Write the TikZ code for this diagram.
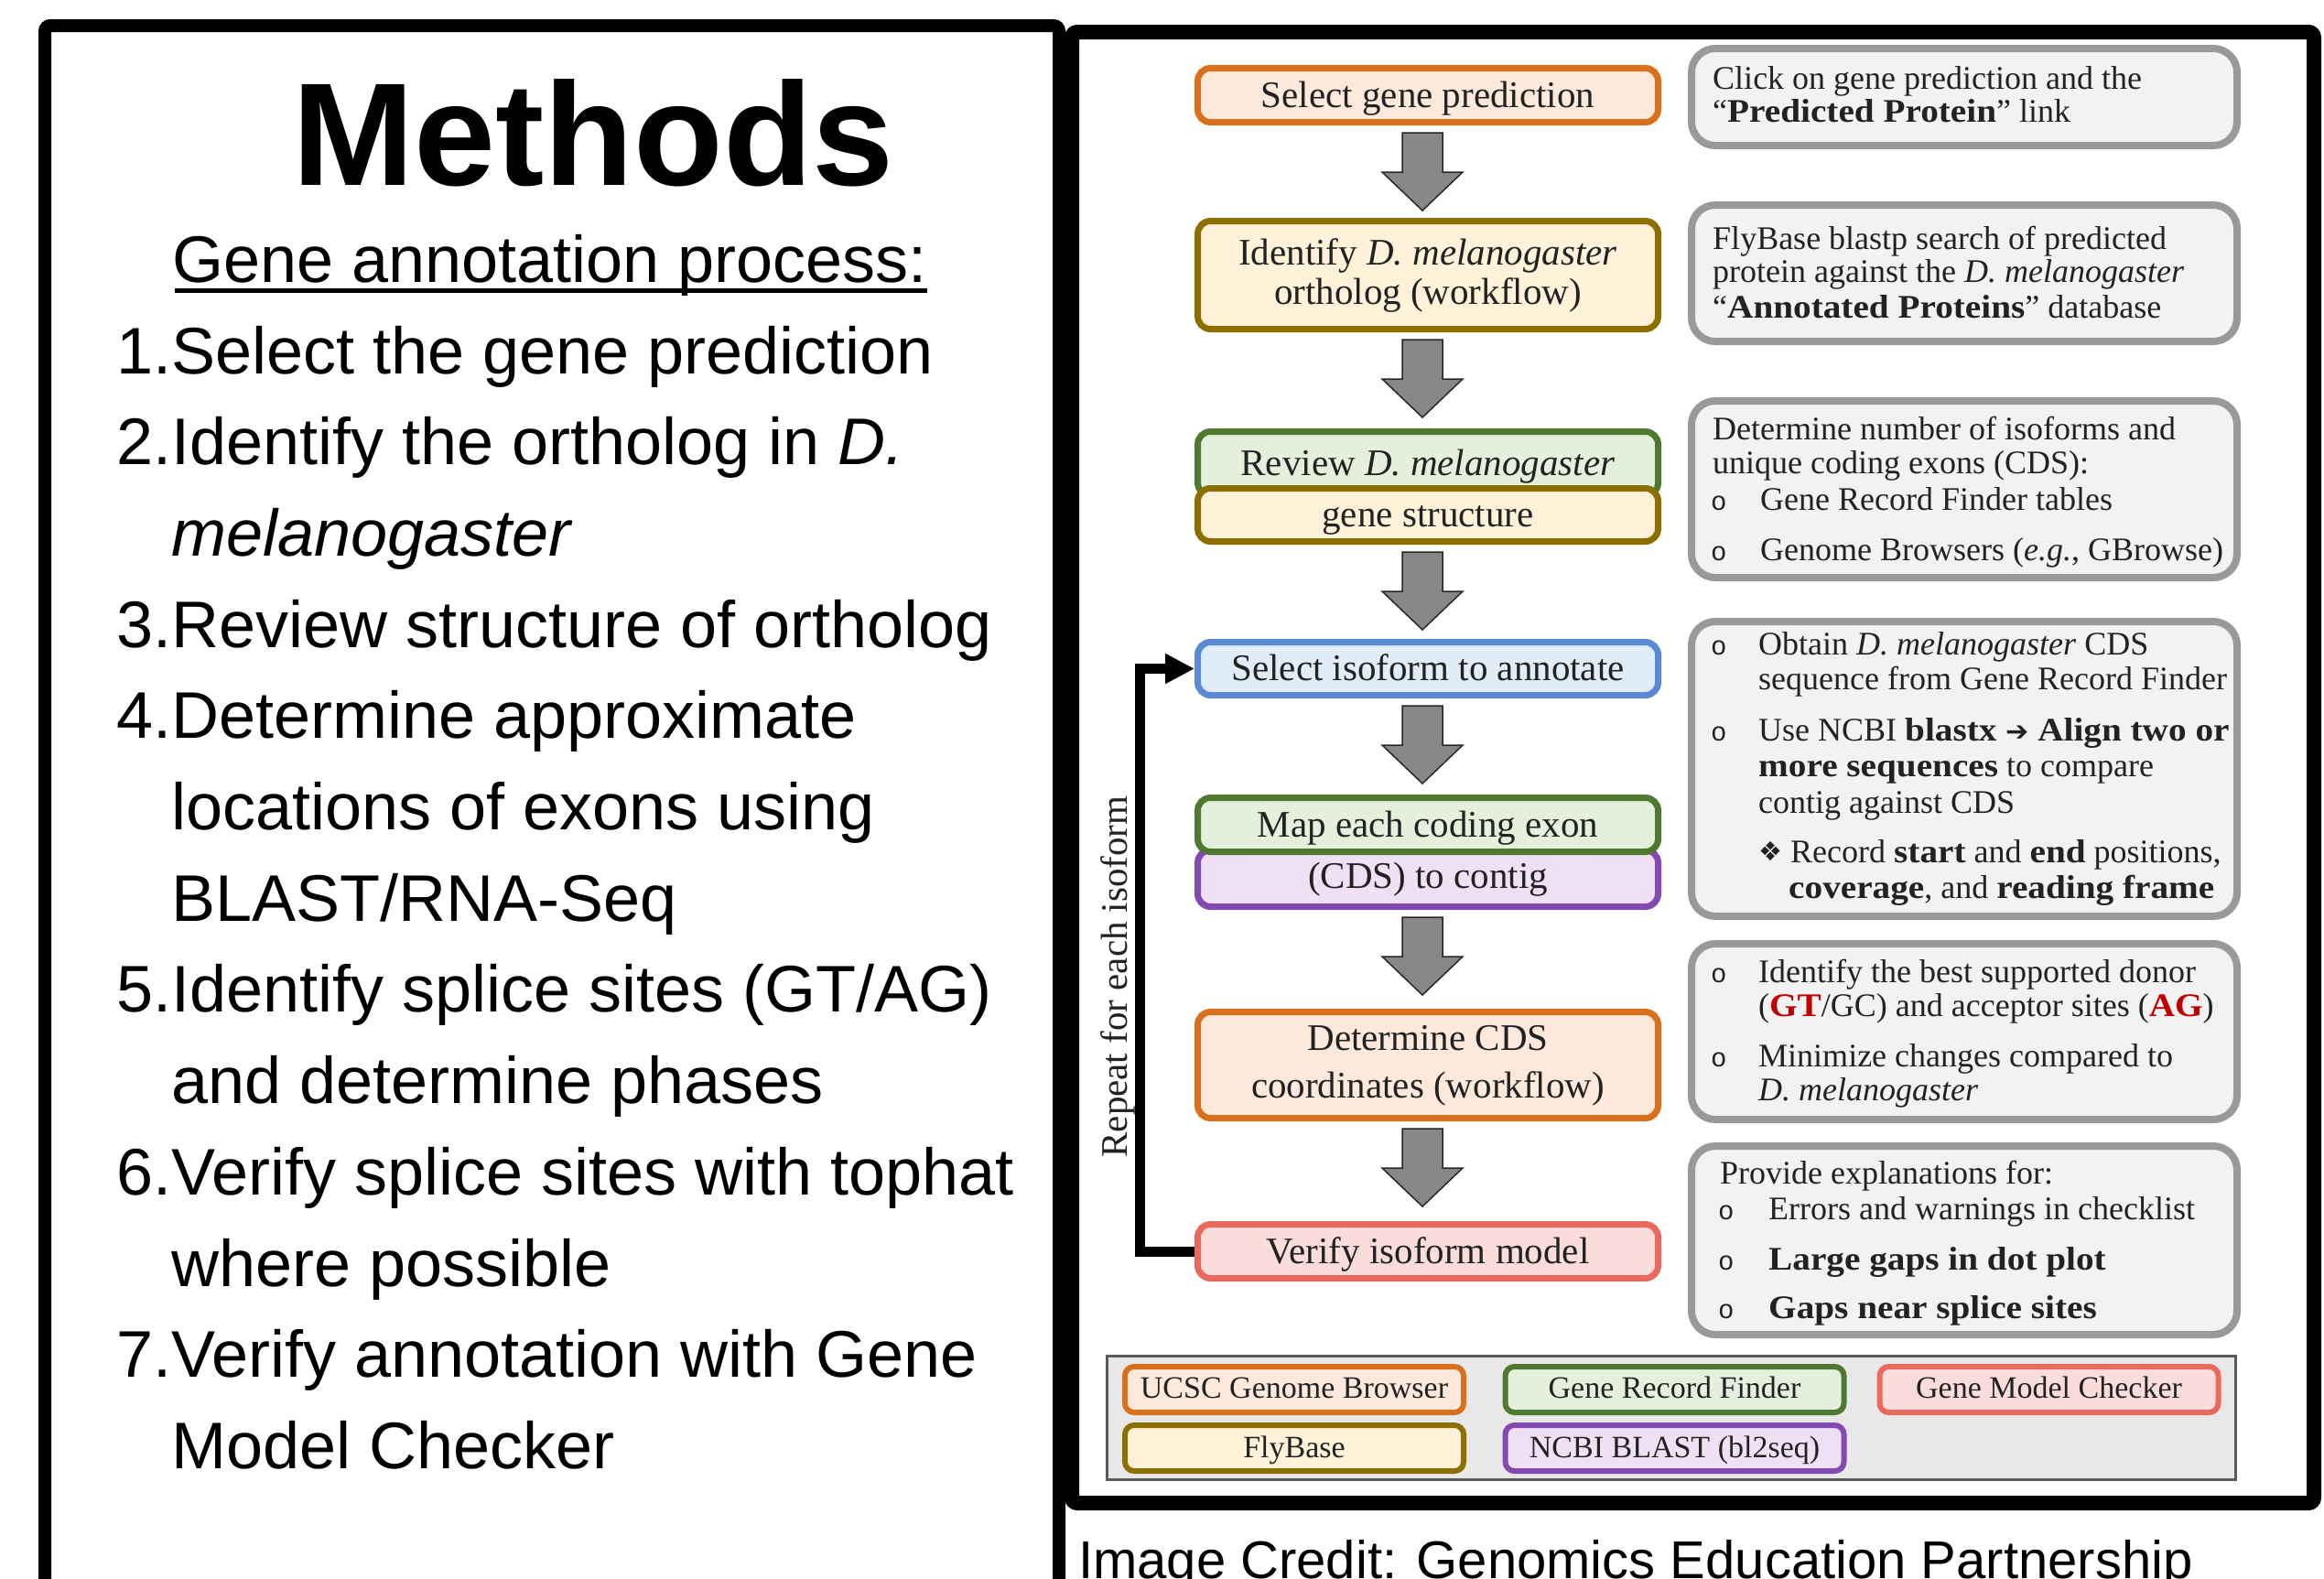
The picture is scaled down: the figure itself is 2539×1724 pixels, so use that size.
\documentclass[tikz,border=0pt]{standalone}
\usepackage{fontspec}
\setmainfont{Liberation Serif}[BoldFeatures={FakeStretch=1.09}]
\newfontfamily\arial{Liberation Sans}
\newfontfamily\symf{DejaVu Sans}
\newfontfamily\monof{Liberation Mono}
\usetikzlibrary{calc,arrows.meta}
\definecolor{orB}{HTML}{D8701E}
\definecolor{orF}{HTML}{FCE9DC}
\definecolor{olB}{HTML}{8D6E00}
\definecolor{olF}{HTML}{FFF2D8}
\definecolor{grB}{HTML}{4F7830}
\definecolor{grF}{HTML}{E4F0DB}
\definecolor{blB}{HTML}{5A8AD6}
\definecolor{blF}{HTML}{E0ECF8}
\definecolor{puB}{HTML}{8549B2}
\definecolor{puF}{HTML}{F0E0F5}
\definecolor{reB}{HTML}{E86A5E}
\definecolor{reF}{HTML}{FADCDA}
\definecolor{gyB}{HTML}{999999}
\definecolor{gyF}{HTML}{F2F2F2}
\definecolor{lgB}{HTML}{5A5A5A}
\definecolor{lgF}{HTML}{E8E8E8}
\definecolor{arF}{HTML}{878787}
\definecolor{txt}{HTML}{222222}
\definecolor{dred}{HTML}{C00000}
\newcommand\grayarrow[1]{%
  \draw[garr] let \p1=(#1.south) in
    (\x1-28,\y1-8) -- (\x1+16,\y1-8) -- (\x1+16,\y1-51) -- (\x1+38,\y1-51)
    -- (\x1-6,\y1-93) -- (\x1-50,\y1-51) -- (\x1-28,\y1-51) -- cycle;}
\newcommand\lowered[2][-4pt]{\raisebox{#1}[\height][\depth]{\begin{tabular}{@{}c@{}}#2\end{tabular}}}
\begin{document}
\begin{tikzpicture}[x=1pt,y=-1pt,
  stepbox/.style={rectangle, rounded corners=14pt, line width=7pt, minimum width=503pt,
    inner sep=0pt, align=center, text=txt, font=\fontsize{41}{46}\selectfont},
  obox/.style={stepbox, draw=orB, fill=orF},
  ybox/.style={stepbox, draw=olB, fill=olF},
  gbox/.style={stepbox, draw=grB, fill=grF},
  bbox/.style={stepbox, draw=blB, fill=blF},
  pbox/.style={stepbox, draw=puB, fill=puF},
  rbox/.style={stepbox, draw=reB, fill=reF},
  infobox/.style={rectangle, rounded corners=26pt, line width=8pt, draw=gyB, fill=gyF,
    minimum width=596pt, inner sep=0pt},
  itxt/.style={anchor=base west, inner sep=0pt, text=txt, font=\fontsize{36}{40}\selectfont},
  bul/.style={anchor=base west, inner sep=0pt, text=txt, font=\monof\fontsize{29}{30}\selectfont},
  legitem/.style={rectangle, rounded corners=10pt, line width=6pt, minimum width=370pt,
    minimum height=50pt, inner sep=0pt, text=txt, font=\fontsize{34}{38}\selectfont},
  ltxt/.style={anchor=base west, inner sep=0pt, font=\arial\fontsize{72}{72}\selectfont},
  garr/.style={fill=arF, draw=black!85, line width=1.5pt, line join=miter}]
\useasboundingbox (0,0) rectangle (2539,1724);
\fill[white] (0,0) rectangle (2539,1724);
% ---------- left panel ----------
\draw[line width=14pt, rounded corners=6pt] (49,1800) -- (49,28) -- (1157,28) -- (1157,1800);
\node[anchor=base, inner sep=0pt, font=\arial\bfseries\fontsize{160}{160}\selectfont] (title) at (648,202) {Methods};
\node[ltxt] (sub) at (188,308) {Gene annotation process:};
\draw[line width=5pt] ($(sub.base west)+(3,9)$) -- ($(sub.base east)+(0,9)$);
\node[ltxt] (n1) at (127,408) {1.};
\node[ltxt] (l1) at (187,408) {Select the gene prediction};
\node[ltxt] (n2) at (127,507.7) {2.};
\node[ltxt] (l2) at (187,507.7) {Identify the ortholog in \textit{D.}};
\node[ltxt] (l2b) at (187,607.4) {\textit{melanogaster}};
\node[ltxt] (n3) at (127,707.1) {3.};
\node[ltxt] (l3) at (187,707.1) {Review structure of ortholog};
\node[ltxt] (n4) at (127,806.8) {4.};
\node[ltxt] (l4) at (187,806.8) {Determine approximate};
\node[ltxt] (l4b) at (187,906.5) {locations of exons using};
\node[ltxt] (l4c) at (187,1006.2) {BLAST/RNA-Seq};
\node[ltxt] (n5) at (127,1105.9) {5.};
\node[ltxt] (l5) at (187,1105.9) {Identify splice sites (GT/AG)};
\node[ltxt] (l5b) at (187,1205.6) {and determine phases};
\node[ltxt] (n6) at (127,1305.3) {6.};
\node[ltxt] (l6) at (187,1305.3) {Verify splice sites with tophat};
\node[ltxt] (l6b) at (187,1405) {where possible};
\node[ltxt] (n7) at (127,1504.7) {7.};
\node[ltxt] (l7) at (187,1504.7) {Verify annotation with Gene};
\node[ltxt] (l7b) at (187,1604.4) {Model Checker};
% ---------- right panel ----------
\draw[line width=16pt, rounded corners=6pt, fill=white] (1171,35) rectangle (2528,1642);
\node[anchor=base west, inner sep=0pt, font=\arial\fontsize{58}{60}\selectfont] (credit) at (1178,1724) {Image Credit: Genomics Education Partnership};
% flow boxes
\node[obox, minimum height=59pt] (s1) at (1560,104) {\lowered{Select gene prediction}};
\node[ybox, minimum height=118pt, font=\fontsize{41}{43}\selectfont] (s2) at (1560,300.5) {\lowered[-2pt]{Identify \textit{D. melanogaster}\\ortholog (workflow)}};
\node[gbox, minimum height=70pt] (s3) at (1560,506.5) {\lowered{Review \textit{D. melanogaster}}};
\node[ybox, minimum height=58pt] (s3b) at (1560,562.5) {\lowered{gene structure}};
\node[bbox, minimum height=58pt] (s4) at (1560,730.5) {\lowered{Select isoform to annotate}};
\node[pbox, minimum height=62pt] (s5b) at (1560,959.5) {\lowered[-2pt]{(CDS) to contig}};
\node[gbox, minimum height=59pt] (s5) at (1560,901) {\lowered{Map each coding exon}};
\node[obox, minimum height=116pt, font=\fontsize{41}{52}\selectfont] (s6) at (1560,1163.5) {\lowered[0pt]{Determine CDS\\coordinates (workflow)}};
\node[rbox, minimum height=59pt] (s7) at (1560,1367) {\lowered{Verify isoform model}};
\grayarrow{s1}
\grayarrow{s2}
\grayarrow{s3b}
\grayarrow{s4}
\grayarrow{s5b}
\grayarrow{s6}
% loop
\draw[line width=11pt, line join=miter, -{Triangle[length=32pt,width=31pt]}] (s7.west) -- ++(-60,0) |- (s4.west);
\node[rotate=90, inner sep=0pt, text=txt, font=\fontsize{41}{41}\selectfont] (rep) at (1221,1067) {Repeat for each isoform};
% info boxes
\node[infobox, minimum height=106pt] (ia) at (2146,106) {};
\node[itxt] (ia1) at (1871,97) {Click on gene prediction and the};
\node[itxt] (ia2) at (1871,133) {“\textbf{Predicted Protein}” link};
\node[infobox, minimum height=149pt] (ib) at (2146,298.5) {};
\node[itxt] (ib1) at (1871,272) {FlyBase blastp search of predicted};
\node[itxt] (ib2) at (1871,308) {protein against the \textit{D. melanogaster}};
\node[itxt] (ib3) at (1871,347) {“\textbf{Annotated Proteins}” database};
\node[infobox, minimum height=193pt] (ic) at (2146,534.5) {};
\node[itxt] (ic1) at (1871,480) {Determine number of isoforms and};
\node[itxt] (ic2) at (1871,517) {unique coding exons (CDS):};
\node[bul] (icb1) at (1869,557) {o};
\node[itxt] (ic3) at (1923,557) {Gene Record Finder tables};
\node[bul] (icb2) at (1869,612) {o};
\node[itxt] (ic4) at (1923,612) {Genome Browsers (\textit{e.g.}, GBrowse)};
\node[infobox, minimum height=322pt] (id) at (2146,840) {};
\node[bul] (idb1) at (1869,715) {o};
\node[itxt] (id1) at (1921,715) {Obtain \textit{D. melanogaster} CDS};
\node[itxt] (id2) at (1921,753) {sequence from Gene Record Finder};
\node[bul] (idb2) at (1869,809) {o};
\node[itxt] (id3) at (1921,809) {Use NCBI \textbf{blastx {\mdseries\symf\fontsize{30}{30}\selectfont ➔} Align two or}};
\node[itxt] (id4) at (1921,848) {\textbf{more sequences} to compare};
\node[itxt] (id5) at (1921,888) {contig against CDS};
\node[itxt, font=\symf\fontsize{29}{30}\selectfont] (idb3) at (1921,940) {❖};
\node[itxt] (id6) at (1956,942) {Record \textbf{start} and \textbf{end} positions,};
\node[itxt] (id7) at (1954,981) {\textbf{coverage}, and \textbf{reading frame}};
\node[infobox, minimum height=192pt] (ie) at (2146,1127) {};
\node[bul] (ieb1) at (1869,1073) {o};
\node[itxt] (ie1) at (1921,1073) {Identify the best supported donor};
\node[itxt] (ie2) at (1921,1110) {(\textbf{\color{dred}GT}/GC) and acceptor sites (\textbf{\color{dred}AG})};
\node[bul] (ieb2) at (1869,1165) {o};
\node[itxt] (ie3) at (1921,1165) {Minimize changes compared to};
\node[itxt] (ie4) at (1921,1202) {\textit{D. melanogaster}};
\node[infobox, minimum height=206pt] (if) at (2146,1355) {};
\node[itxt] (if1) at (1879,1293) {Provide explanations for:};
\node[bul] (ifb1) at (1877,1332) {o};
\node[itxt] (if2) at (1932,1332) {Errors and warnings in checklist};
\node[bul] (ifb2) at (1877,1387) {o};
\node[itxt] (if3) at (1932,1387) {\textbf{Large gaps in dot plot}};
\node[bul] (ifb3) at (1877,1440) {o};
\node[itxt] (if4) at (1932,1440) {\textbf{Gaps near splice sites}};
% legend
\node[draw=lgB, fill=lgF, line width=3pt, minimum width=1233pt, minimum height=135pt, inner sep=0pt] (legend) at (1826,1549) {};
\node[legitem, draw=orB, fill=orF] (lucsc) at (1414,1518) {\lowered[-2pt]{UCSC Genome Browser}};
\node[legitem, draw=grB, fill=grF] (lgrf) at (1829.5,1518) {\lowered[-2pt]{Gene Record Finder}};
\node[legitem, draw=reB, fill=reF] (lgmc) at (2238.5,1518) {\lowered[-2pt]{Gene Model Checker}};
\node[legitem, draw=olB, fill=olF] (lfly) at (1414,1582) {\lowered[-3pt]{FlyBase}};
\node[legitem, draw=puB, fill=puF] (lblast) at (1829.5,1582) {\lowered[-3pt]{NCBI BLAST (bl2seq)}};
\end{tikzpicture}
\end{document}
